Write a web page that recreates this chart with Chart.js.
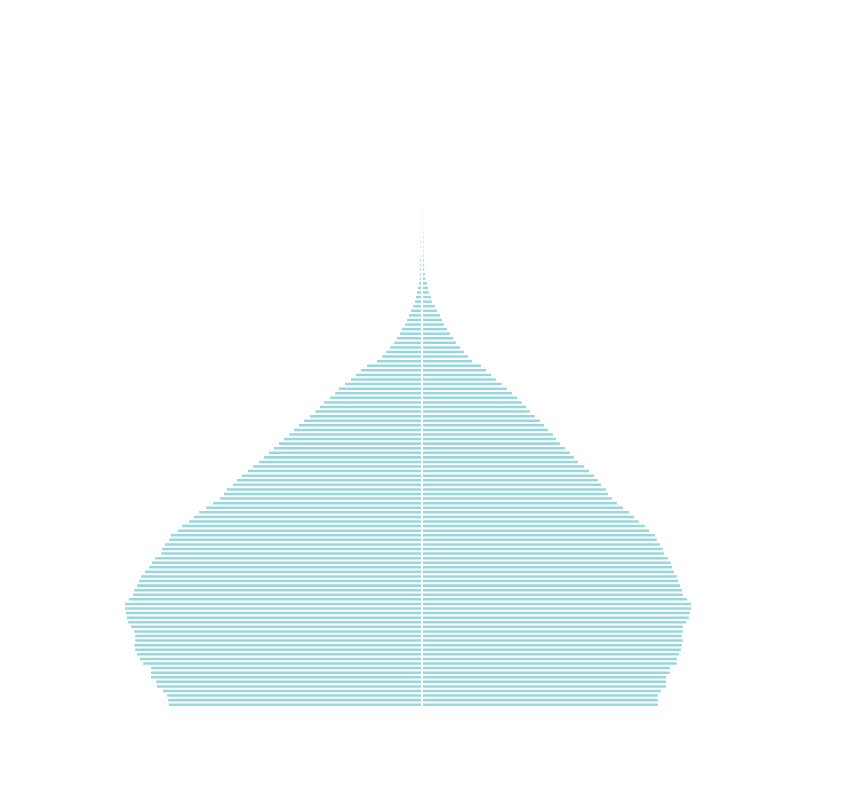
<!DOCTYPE html>
<html>
<head>
<meta charset="utf-8">
<title>Population pyramid</title>
<script src="https://cdn.jsdelivr.net/npm/chart.js@4/dist/chart.umd.min.js"></script>
<style>
  html, body { margin: 0; padding: 0; background: #fff; }
  #wrap { width: 852px; height: 792px; position: relative; }
</style>
</head>
<body>
<div id="wrap"><canvas id="pyramid"></canvas></div>
<script>
// share of total population by single year of age (%), age 0 first
var ages = [];
for (var a = 0; a <= 111; a++) ages.push(String(a));

var leftShare = [
  0.798, 0.801, 0.804, 0.817, 0.836, 0.839, 0.855, 0.855, 0.855, 0.880,
  0.890, 0.899, 0.905, 0.908, 0.905, 0.905, 0.908, 0.918, 0.927, 0.931,
  0.934, 0.937, 0.937, 0.924, 0.912, 0.908, 0.899, 0.893, 0.886, 0.874,
  0.861, 0.852, 0.842, 0.823, 0.820, 0.811, 0.798, 0.792, 0.770, 0.757,
  0.735, 0.719, 0.703, 0.681, 0.659, 0.637, 0.625, 0.615, 0.596, 0.584,
  0.568, 0.549, 0.533, 0.514, 0.498, 0.483, 0.467, 0.451, 0.435, 0.419,
  0.404, 0.388, 0.372, 0.353, 0.337, 0.322, 0.309, 0.290, 0.274, 0.262,
  0.243, 0.224, 0.208, 0.192, 0.173, 0.142, 0.126, 0.113, 0.101, 0.088,
  0.079, 0.069, 0.063, 0.053, 0.047, 0.041, 0.035, 0.028, 0.022, 0.019,
  0.016, 0.012, 0.009, 0.007, 0.006, 0.006, 0.006, 0.006, 0.0035, 0.0035,
  0.0046, 0.0043, 0.004, 0.004, 0.0036, 0.0036, 0.0036, 0.0033, 0.0033, 0.0033,
  0.0033, 0.0033
];

var rightShare = [
  0.744, 0.744, 0.744, 0.754, 0.770, 0.770, 0.770, 0.782, 0.782, 0.804,
  0.804, 0.811, 0.817, 0.820, 0.823, 0.820, 0.823, 0.823, 0.833, 0.842,
  0.845, 0.849, 0.849, 0.836, 0.823, 0.820, 0.814, 0.808, 0.804, 0.795,
  0.789, 0.785, 0.776, 0.763, 0.760, 0.751, 0.741, 0.735, 0.716, 0.703,
  0.684, 0.669, 0.653, 0.634, 0.615, 0.599, 0.587, 0.580, 0.565, 0.555,
  0.543, 0.527, 0.511, 0.492, 0.479, 0.467, 0.451, 0.435, 0.423, 0.413,
  0.397, 0.385, 0.372, 0.356, 0.341, 0.328, 0.315, 0.300, 0.284, 0.268,
  0.252, 0.233, 0.218, 0.202, 0.186, 0.158, 0.145, 0.132, 0.120, 0.107,
  0.098, 0.088, 0.079, 0.069, 0.063, 0.057, 0.047, 0.041, 0.031, 0.028,
  0.022, 0.019, 0.016, 0.010, 0.009, 0.007, 0.006, 0.006, 0.005, 0.0046,
  0.0046, 0.0046, 0.0046, 0.0043, 0.004, 0.004, 0.0036, 0.0036, 0.0036, 0.0033,
  0.0033, 0.0033
];

var barColor = '#98d8dd';

var ctx = document.getElementById('pyramid').getContext('2d');
var chart = new Chart(ctx, {
    type: 'bar',
    data: {
        labels: ages,
        datasets: [
            {
                label: 'Left',
                data: leftShare.map(function (v) { return -v; }),
                backgroundColor: barColor,
                borderWidth: 0
            },
            {
                label: 'Right',
                data: rightShare,
                backgroundColor: barColor,
                borderWidth: 0
            }
        ]
    },
    options: {
        indexAxis: 'y',
        responsive: true,
        maintainAspectRatio: false,
        animation: false,
        datasets: {
            bar: { categoryPercentage: 1.0, barPercentage: 0.55 }
        },
        layout: {
            padding: { top: 194, bottom: 85, left: 10, right: 18 }
        },
        scales: {
            x: {
                stacked: true,
                min: -1.3,
                max: 1.3,
                ticks: { display: false, stepSize: 0.1 },
                border: { display: false },
                grid: {
                    z: 1,
                    drawTicks: false,
                    lineWidth: 2,
                    // white line at zero splits the two sides
                    color: function (c) {
                        return c.tick && c.tick.value === 0 ? '#ffffff' : 'rgba(0,0,0,0)';
                    }
                }
            },
            y: {
                stacked: true,
                reverse: true,
                display: false
            }
        },
        plugins: {
            legend: { display: false },
            title: { display: false },
            tooltip: { enabled: true }
        }
    }
});
</script>
</body>
</html>
